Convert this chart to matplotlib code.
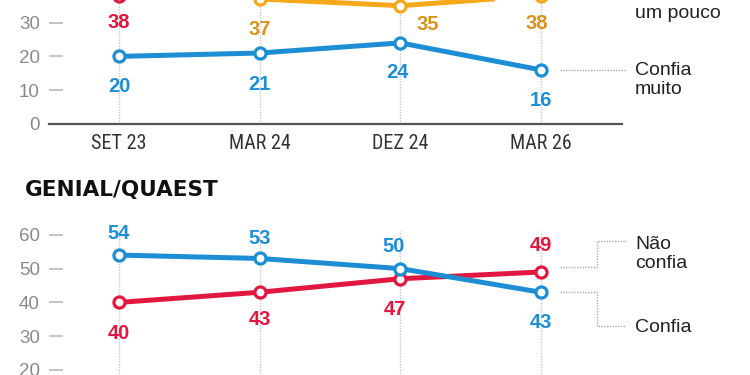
import matplotlib
matplotlib.use("Agg")
import matplotlib.pyplot as plt
from matplotlib import font_manager as fm

names = {f.name for f in fm.fontManager.ttflist}
cond_faces = [f for f in fm.fontManager.ttflist if f.name == "DejaVu Sans" and f.stretch in ("condensed", 600, "semi-condensed")]
if "Liberation Sans Narrow" in names:
    NARROW = dict(family="Liberation Sans Narrow")
elif "Roboto Condensed" in names:
    NARROW = dict(family="Roboto Condensed")
elif cond_faces:
    NARROW = dict(family="DejaVu Sans", fontstretch="condensed")
else:
    NARROW = dict(family="Liberation Sans")

# ---- data ----
dates = ["SET 23", "MAR 24", "DEZ 24", "MAR 26"]
top_muito = [20, 21, 24, 16]        # Confia muito (blue)
top_pouco = [40, 37, 35, 38]        # Confia um pouco (orange)
top_nao = [38, 40, 39, 44]          # Não confia (red)
bot_confia = [54, 53, 50, 43]       # Confia (blue)
bot_nao = [40, 43, 47, 49]          # Não confia (red)
top_yticks = [0, 10, 20, 30]
bot_yticks = [20, 30, 40, 50, 60]

BLUE = "#1E8ED4"
RED = "#E0173F"
ORANGE = "#F6A81B"
ORANGE_TXT = "#D9921E"
GRID = "#c8c8c8"

fig = plt.figure(figsize=(7.5, 3.75), dpi=100)
W, H = 750, 375
PX = 3.38  # px per unit
xl, xr = -0.4975, 3.576

def make_ax(y0_px, ytop):
    h = ytop * PX
    ax = fig.add_axes([49 / W, (H - y0_px) / H, (622 - 49) / W, h / H])
    ax.set_xlim(xl, xr)
    ax.set_ylim(0, ytop)
    for s in ["top", "right", "left", "bottom"]:
        ax.spines[s].set_visible(False)
    ax.set_facecolor("none")
    ax.tick_params(axis="y", direction="in", length=10, width=1.4, color="#c4c4c4",
                   pad=6.5, labelsize=13.5, labelcolor="#8a8a8a")
    ax.tick_params(axis="x", length=0, pad=7, labelsize=14.5, labelcolor="#333333")
    return ax

x = list(range(len(dates)))

def series(ax, vals, color):
    ax.plot(x, vals, color=color, lw=3.6, marker="o", ms=8, mfc="white",
            mec=color, mew=2.3, zorder=5, clip_on=False, solid_capstyle="round")

def label(ax, i, vals, color, dy, dx=0):
    ax.annotate(str(vals[i]), (x[i], vals[i]), xytext=(dx, dy), textcoords="offset pixels",
                ha="center", va="center", color=color, fontsize=14.5,
                fontweight="bold", family="Liberation Sans", zorder=6)

# ---- top panel ----
ax1 = make_ax(124, 50)
ax1.set_yticks(top_yticks)
ax1.set_yticklabels([str(v) for v in top_yticks], family="Liberation Sans")
ax1.set_xticks(x)
ax1.set_xticklabels(dates, **NARROW)
ax1.spines["bottom"].set_visible(True)
ax1.spines["bottom"].set_color("#555555")
ax1.spines["bottom"].set_linewidth(1.6)
for xi in x:
    ax1.plot([xi, xi], [0, 50], color=GRID, lw=1, ls=(0, (1, 1)), zorder=1)
series(ax1, top_nao, RED)
series(ax1, top_pouco, ORANGE)
series(ax1, top_muito, BLUE)
label(ax1, 0, top_nao, RED, -27)
for i, dy in enumerate([-30, -31, -30, -31]):
    label(ax1, i, top_muito, BLUE, dy, dx=[0, 0, -3, 0][i])
label(ax1, 1, top_pouco, ORANGE_TXT, -31)
label(ax1, 2, top_pouco, ORANGE_TXT, -19, dx=27)
label(ax1, 3, top_pouco, ORANGE_TXT, -28, dx=-4)

ax1.plot([3.135, 3.604], [16, 16], color="#aaaaaa", lw=1, ls=(0, (1, 1)), clip_on=False)
ax1.text(3.668, 13.0, "Confia\nmuito", ha="left", va="center", fontsize=14,
         color="#222222", family="Liberation Sans", linespacing=1.2)
ax1.text(3.668, 35.5, "Confia\num pouco", ha="left", va="center", fontsize=14,
         color="#222222", family="Liberation Sans", linespacing=1.2)

# ---- bottom panel ----
ax2 = make_ax(437.6, 70)
ax2.set_yticks(bot_yticks)
ax2.set_yticklabels([str(v) for v in bot_yticks], family="Liberation Sans")
ax2.set_xticks([])
for xi in x:
    ax2.plot([xi, xi], [0, 61], color=GRID, lw=1, ls=(0, (1, 1)), zorder=1)
series(ax2, bot_nao, RED)
series(ax2, bot_confia, BLUE)
for i, (dy, dx) in enumerate([(22, 0), (20, 0), (22, -7), (-30, 0)]):
    label(ax2, i, bot_confia, BLUE, dy, dx)
for i, (dy, dx) in enumerate([(-31, 0), (-27, 0), (-31, -5), (26, 0)]):
    label(ax2, i, bot_nao, RED, dy, dx)

lead = dict(color="#aaaaaa", lw=1, ls=(0, (1, 1)), clip_on=False)
ax2.plot([3.135, 3.398, 3.398, 3.604], [50.6, 50.6, 58.2, 58.2], **lead)
ax2.plot([3.135, 3.398, 3.398, 3.604], [43.1, 43.1, 33.0, 33.0], **lead)
ax2.text(3.668, 54.3, "Não\nconfia", ha="left", va="center", fontsize=14,
         color="#222222", family="Liberation Sans", linespacing=1.2)
ax2.text(3.668, 32.7, "Confia", ha="left", va="center", fontsize=14,
         color="#222222", family="Liberation Sans")

fig.text(25 / W, 1 - 190 / H, "GENIAL/QUAEST", ha="left", va="center",
         fontsize=15.5, fontweight="bold", family="DejaVu Sans", color="#111111")

fig.savefig("out.png", dpi=100)
